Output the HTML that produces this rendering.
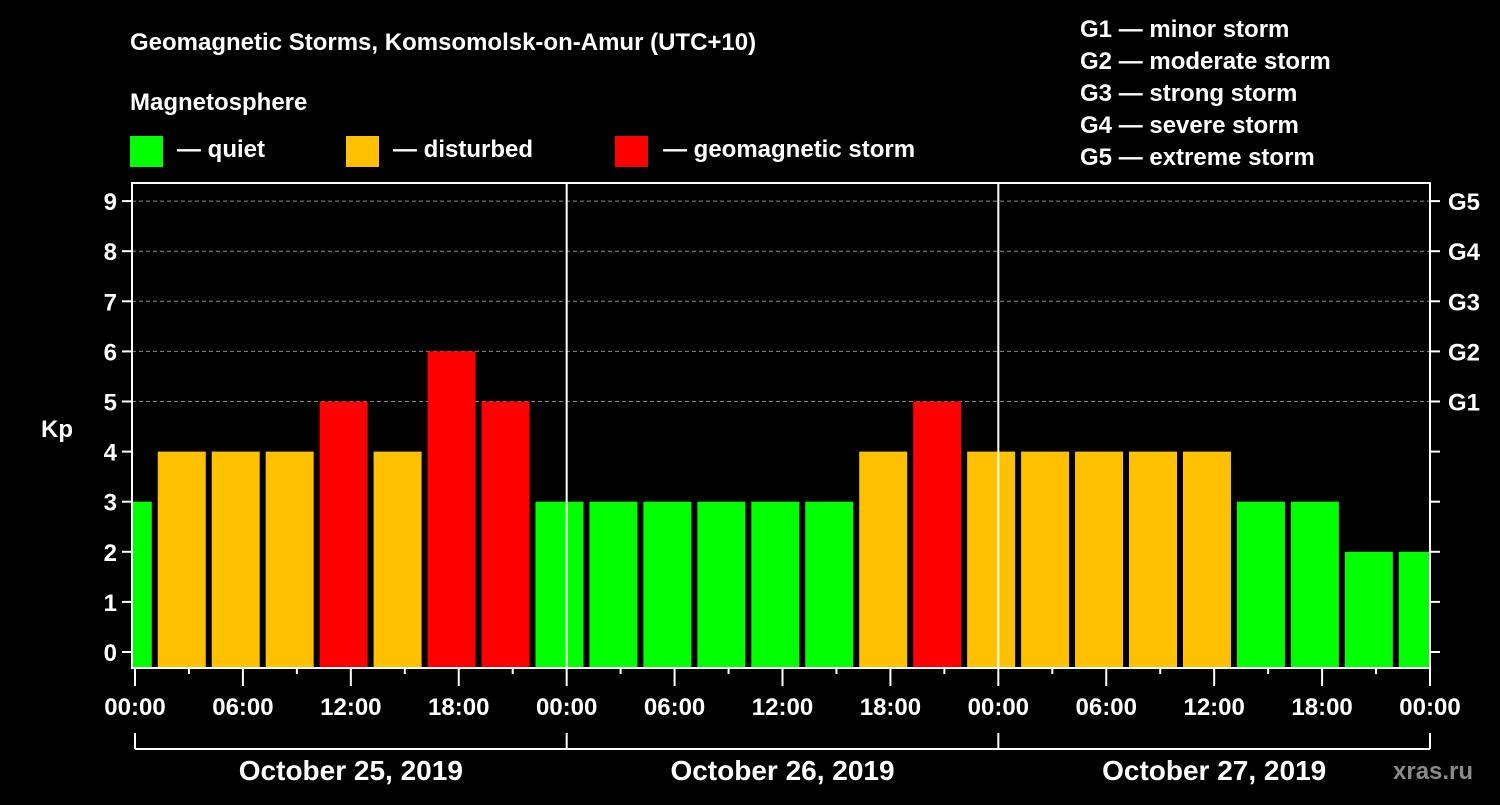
<!DOCTYPE html>
<html><head><meta charset="utf-8"><style>
html,body{margin:0;padding:0;background:#000;}
svg text{font-family:"Liberation Sans",Arial,sans-serif;font-weight:bold;fill:#fff;}
</style></head><body>
<svg width="1500" height="800" xmlns="http://www.w3.org/2000/svg">
<rect width="1500" height="800" fill="#000"/>
<text x="130" y="50" font-size="24">Geomagnetic Storms, Komsomolsk-on-Amur (UTC+10)</text>
<text x="130" y="110" font-size="24">Magnetosphere</text>
<rect x="130" y="136" width="33" height="31" fill="#00ff00"/>
<text x="177" y="157" font-size="24">— quiet</text>
<rect x="346" y="136" width="33" height="31" fill="#ffc000"/>
<text x="393" y="157" font-size="24">— disturbed</text>
<rect x="615" y="136" width="33" height="31" fill="#ff0000"/>
<text x="663" y="157" font-size="24">— geomagnetic storm</text>
<g font-size="24">
<text x="1080" y="37">G1 — minor storm</text>
<text x="1080" y="69">G2 — moderate storm</text>
<text x="1080" y="101">G3 — strong storm</text>
<text x="1080" y="133">G4 — severe storm</text>
<text x="1080" y="165">G5 — extreme storm</text>
</g>
<text x="41" y="437" font-size="24">Kp</text>
<text x="1393" y="779" font-size="24" fill="#888" style="fill:#8a8a8a">xras.ru</text>
<g id="plot"></g>
</svg>
<script>
const kpValues=[3,4,4,4,5,4,6,5,3,3,3,3,3,3,4,5,4,4,4,4,4,3,3,2,2];
const yTicks=[0,1,2,3,4,5,6,7,8,9];
const gLabels=["G1","G2","G3","G4","G5"];
const gLevels=[5,6,7,8,9];
const xTickLabels=["00:00","06:00","12:00","18:00","00:00","06:00","12:00","18:00","00:00","06:00","12:00","18:00","00:00"];
const dayLabels=["October 25, 2019","October 26, 2019","October 27, 2019"];

const L=132,R=1430,T=183,B=668,X0=135,PXH=(1430-135)/72;
const xs=h=>X0+h*PXH;
const ys=v=>652-50.1*v;
const NS="http://www.w3.org/2000/svg";
const g=document.getElementById('plot');
function mk(t,a){const e=document.createElementNS(NS,t);for(const k in a)e.setAttribute(k,a[k]);g.appendChild(e);return e;}
// clip
const defs=mk('defs',{});
const cp=document.createElementNS(NS,'clipPath');cp.setAttribute('id','pc');
const cr=document.createElementNS(NS,'rect');cr.setAttribute('x',L);cr.setAttribute('y',T);cr.setAttribute('width',R-L);cr.setAttribute('height',B-T);
cp.appendChild(cr);defs.appendChild(cp);
// grid
gLevels.forEach(v=>{
  const ln=mk('line',{x1:L,x2:R,y1:ys(v),y2:ys(v),stroke:'#888','stroke-dasharray':'4,3','stroke-width':1});
  
  
});
// bars
const bg=mk('g',{'clip-path':'url(#pc)'});
kpValues.forEach((v,i)=>{
  const c=-0.4+3*i;
  const col=v>=5?'#ff0000':(v>=4?'#ffc000':'#00ff00');
  const r=document.createElementNS(NS,'rect');
  r.setAttribute('x',xs(c)-24);r.setAttribute('width',48);
  r.setAttribute('y',ys(v));r.setAttribute('height',B-ys(v));
  r.setAttribute('fill',col);
  
  
  bg.appendChild(r);
});
// day separators
[24,48].forEach(h=>{
  const ln=mk('line',{x1:xs(h),x2:xs(h),y1:T,y2:B,stroke:'#fff','stroke-width':2});
  
  
});
// frame
const fr=mk('rect',{x:L,y:T,width:R-L,height:B-T,fill:'none',stroke:'#fff','stroke-width':2});


// y ticks
yTicks.forEach(v=>{
  mk('line',{x1:L-10,x2:L,y1:ys(v),y2:ys(v),stroke:'#fff','stroke-width':2});
  mk('line',{x1:R,x2:R+10,y1:ys(v),y2:ys(v),stroke:'#fff','stroke-width':2});
  const t=mk('text',{x:L-15,y:ys(v)+9,'font-size':24,'text-anchor':'end'});t.textContent=v;
  
  
});
gLevels.forEach((v,i)=>{
  const t=mk('text',{x:R+18,y:ys(v)+9,'font-size':24});t.textContent=gLabels[i];
  
  
});
// x ticks
for(let h=0;h<=72;h+=3){
  const major=h%6===0;
  mk('line',{x1:xs(h),x2:xs(h),y1:B,y2:major?B+18:B+6,stroke:'#fff','stroke-width':2});
}
xTickLabels.forEach((s,i)=>{
  const t=mk('text',{x:xs(i*6),y:715,'font-size':24,'text-anchor':'middle'});t.textContent=s;
  
  
});
// brackets
mk('line',{x1:xs(0),x2:xs(72),y1:749,y2:749,stroke:'#fff','stroke-width':2});
[0,24,48,72].forEach(h=>mk('line',{x1:xs(h),x2:xs(h),y1:733,y2:749,stroke:'#fff','stroke-width':2}));
dayLabels.forEach((s,i)=>{
  const t=mk('text',{x:xs(12+24*i),y:780,'font-size':28,'text-anchor':'middle'});t.textContent=s;
  
  
});
</script>
</body></html>
